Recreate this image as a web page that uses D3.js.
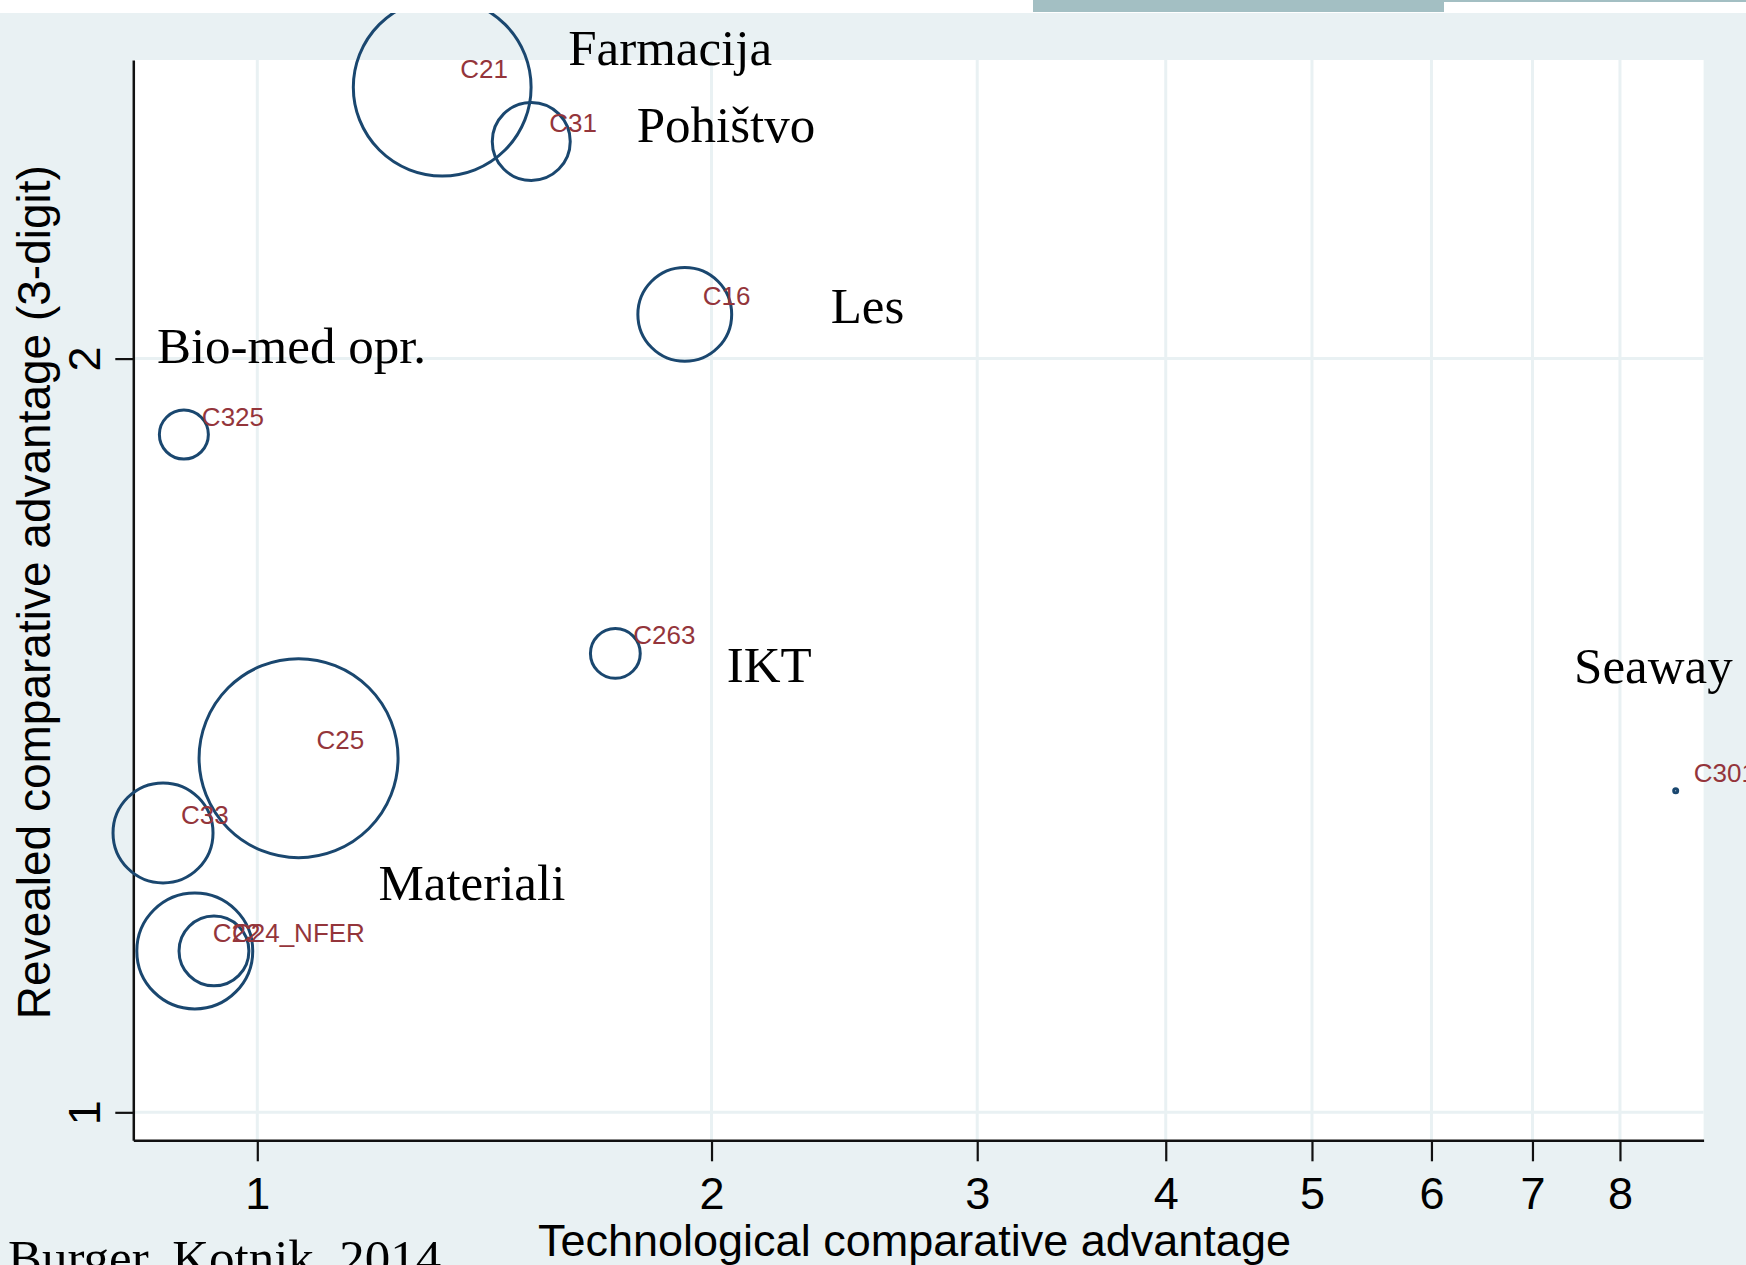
<!DOCTYPE html>
<html><head><meta charset="utf-8">
<script src="https://cdn.jsdelivr.net/npm/d3@7"></script>
<style>html,body{margin:0;padding:0;background:#e9f1f3;overflow:hidden}</style>
</head><body><svg id="chart" width="1746" height="1265"></svg>
<script>
// ---- data ----
const codes = ["C21","C31","C16","C325","C263","C25","C33","C22","C24_NFER","C301"];
const tca = [1.326,1.519,1.920,0.894,1.727,1.065,0.866,0.909,0.936,8.71];
const rca = [2.567,2.442,2.083,1.865,1.525,1.385,1.293,1.160,1.160,1.344];
const weight = [79,15.2,22,6,6.2,99,25,33.6,12.2,0.04];
const xTicks = [1,2,3,4,5,6,7,8];
const yTicks = [1,2];
const xTitle = "Technological comparative advantage";
const yTitle = "Revealed comparative advantage (3-digit)";
const noteLabels = ["Farmacija","Pohištvo","Les","Bio-med opr.","IKT","Seaway","Materiali"];
const noteX = [1.607,1.784,2.399,0.858,2.047,7.459,1.203];
const noteY = [2.620,2.441,2.067,1.992,1.486,1.484,1.216];
const source = "Burger, Kotnik, 2014";

// ---- layout ----
const W = 1746, H = 1265;
const L = 133.3, R = 1703.6, T = 60, B = 1140.3;
const bg = "#e9f1f3", navy = "#1a476f", labCol = "#94353b";
const sans = "'Liberation Sans', Arial, sans-serif";
const serif = "'Liberation Serif', 'Times New Roman', serif";

const svg = d3.select("#chart");
const x = d3.scaleLog().domain([0.8276, 9.089]).range([L, R]);
const y = d3.scaleLog().domain([0.9746, 2.632]).range([B, T]);
const r = d3.scaleSqrt().domain([0, 100]).range([0, 100]);

svg.append("rect").attr("width", W).attr("height", H).attr("fill", bg);
svg.append("rect").attr("x", L).attr("y", T).attr("width", R - L).attr("height", B - T).attr("fill", "#fff");

// grid
const grid = svg.append("g");
grid.selectAll("line.v").data(xTicks).join("line")
  .attr("x1", d => x(d)).attr("x2", d => x(d)).attr("y1", T).attr("y2", B)
  .attr("stroke", bg).attr("stroke-width", 3);
grid.selectAll("line.h").data(yTicks).join("line")
  .attr("y1", d => y(d)).attr("y2", d => y(d)).attr("x1", L).attr("x2", R)
  .attr("stroke", bg).attr("stroke-width", 3);

// x axis
const xAx = svg.append("g").attr("transform", `translate(0,${B})`)
  .call(d3.axisBottom(x).tickValues(xTicks).tickFormat(d3.format("d")).tickSize(21).tickSizeOuter(0).tickPadding(16));
xAx.select(".domain").attr("stroke", "#111").attr("stroke-width", 2.5);
xAx.selectAll(".tick line").attr("stroke", "#111").attr("stroke-width", 2.2);
xAx.selectAll(".tick text").attr("fill", "#000").style("font-family", sans).style("font-size", "45px");

// y axis
const yAx = svg.append("g").attr("transform", `translate(${L},0)`)
  .call(d3.axisLeft(y).tickValues(yTicks).tickFormat(d3.format("d")).tickSize(18).tickSizeOuter(0));
yAx.select(".domain").attr("stroke", "#111").attr("stroke-width", 2.5);
yAx.selectAll(".tick line").attr("stroke", "#111").attr("stroke-width", 2.2);
yAx.selectAll(".tick text").attr("fill", "#000").style("font-family", sans).style("font-size", "45px")
  .attr("transform", "rotate(-90)").attr("x", 0).attr("y", -33).attr("dy", 0).attr("text-anchor", "middle");

// titles
svg.append("text").attr("x", (L + R) / 2 - 4).attr("y", 1256).attr("text-anchor", "middle")
  .style("font-family", sans).style("font-size", "45px").text(xTitle);
svg.append("text").attr("transform", `translate(50,${(T + B) / 2 - 8}) rotate(-90)`).attr("text-anchor", "middle")
  .style("font-family", sans).style("font-size", "46px").text(yTitle);

// bubbles
const pts = codes.map((c, i) => ({c, x: tca[i], y: rca[i], w: weight[i]}));
const g = svg.append("g");
g.selectAll("circle").data(pts).join("circle")
  .attr("cx", d => x(d.x)).attr("cy", d => y(d.y)).attr("r", d => Math.max(1.5, r(d.w)))
  .attr("fill", "none").attr("stroke", navy).attr("stroke-width", 3);
g.selectAll("text").data(pts).join("text")
  .attr("x", d => x(d.x) + 18).attr("y", d => y(d.y) - 9)
  .attr("fill", labCol).style("font-family", sans).style("font-size", "26px").text(d => d.c);

// annotations
svg.append("g").selectAll("text").data(noteLabels).join("text")
  .attr("x", (d, i) => x(noteX[i])).attr("y", (d, i) => y(noteY[i]))
  .style("font-family", serif).style("font-size", "51px").attr("fill", "#000").text(d => d);
svg.append("text").attr("x", 8).attr("y", 1275)
  .style("font-family", serif).style("font-size", "51px").attr("fill", "#000").text(source);

// slide header strip
svg.append("rect").attr("x", 0).attr("y", 0).attr("width", W).attr("height", 13).attr("fill", "#fff");
svg.append("rect").attr("x", 1033).attr("y", 0).attr("width", 411).attr("height", 12).attr("fill", "#a3bfc3");
svg.append("rect").attr("x", 1444).attr("y", 0).attr("width", W - 1444).attr("height", 2).attr("fill", "#a3bfc3");
</script></body></html>
